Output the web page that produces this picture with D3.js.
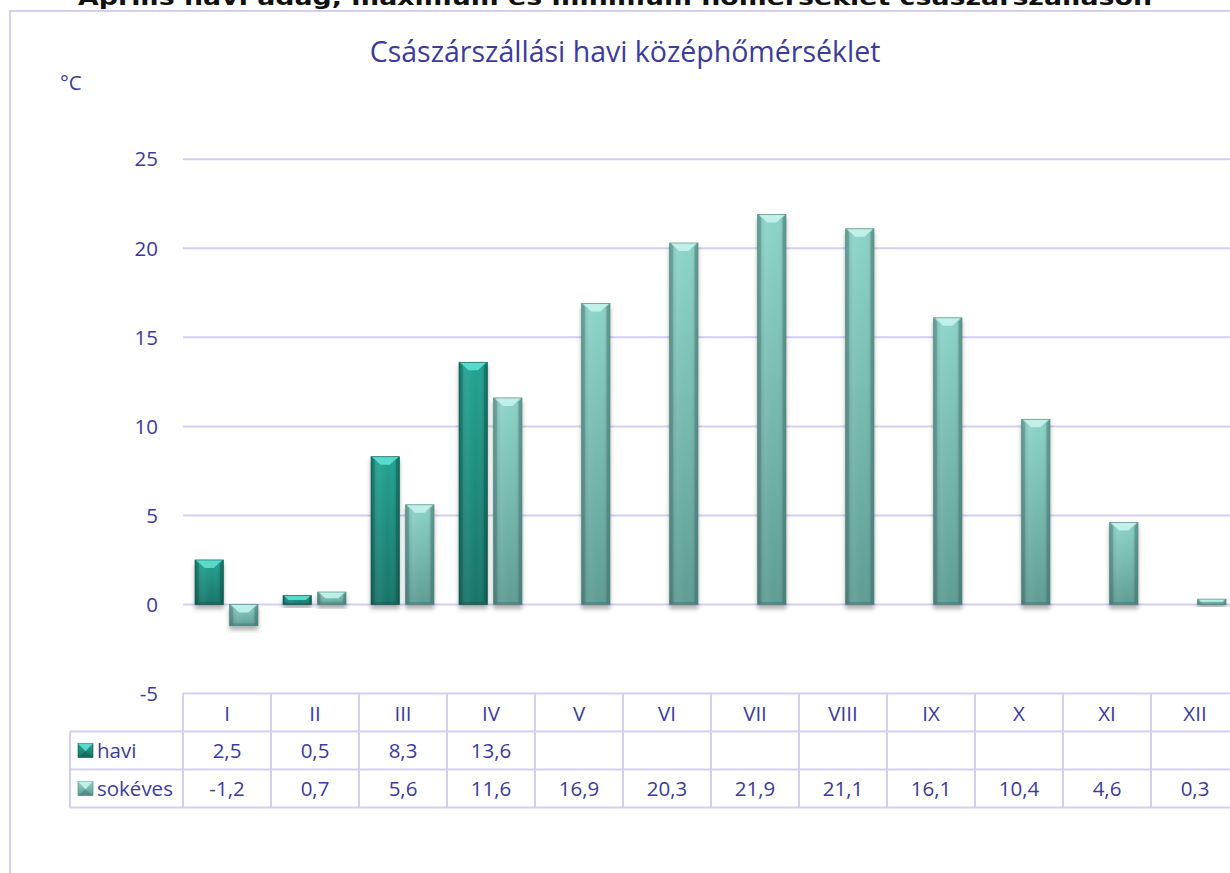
<!DOCTYPE html>
<html><head><meta charset="utf-8">
<script src="https://cdn.jsdelivr.net/npm/d3@7"></script>
<style>
html,body{margin:0;padding:0;background:#fff;}
svg{display:block;}
</style></head>
<body>
<script>
const months = ["I","II","III","IV","V","VI","VII","VIII","IX","X","XI","XII"];
const seriesNames = ["havi","sokéves"];
const havi = [2.5,0.5,8.3,13.6,null,null,null,null,null,null,null,null];
const sokeves = [-1.2,0.7,5.6,11.6,16.9,20.3,21.9,21.1,16.1,10.4,4.6,0.3];
const yTicks = [-5,0,5,10,15,20,25];
const chartTitle = "Császárszállási havi középhőmérséklet";
const topText = "Április havi adag, maximum és minimum hőmérséklet császárszálláson";
const unitLabel = "°C";

const W = 1230, H = 873;
const textColor = "#3b3ba0";
const lineColor = "#d3cff2";
const svg = d3.select("body").append("svg").attr("width", W).attr("height", H);
const defs = svg.append("defs");

const pal = {
  "havi": {top:"#22a392", bot:"#187468", edge:"#0f5a52", light:"#62e4d6", dark:"#0e4f48"},
  "sokéves": {top:"#8cd4c8", bot:"#5e9c94", edge:"#4a857e", light:"#c8f6ee", dark:"#3e6f69"}
};
seriesNames.forEach((s,i)=>{
  const p = pal[s];
  const g = defs.append("linearGradient").attr("id","g"+i).attr("x1",0).attr("y1",0).attr("x2",0).attr("y2",1);
  g.append("stop").attr("offset","0%").attr("stop-color",p.top);
  g.append("stop").attr("offset","100%").attr("stop-color",p.bot);
  const h = defs.append("linearGradient").attr("id","h"+i).attr("x1",0).attr("y1",0).attr("x2",1).attr("y2",0);
  h.append("stop").attr("offset","0%").attr("stop-color","#000").attr("stop-opacity",0.18);
  h.append("stop").attr("offset","30%").attr("stop-color","#fff").attr("stop-opacity",0.06);
  h.append("stop").attr("offset","60%").attr("stop-color","#fff").attr("stop-opacity",0.0);
  h.append("stop").attr("offset","100%").attr("stop-color","#000").attr("stop-opacity",0.12);
});
const f = defs.append("filter").attr("id","sh").attr("x","-30%").attr("y","-30%").attr("width","160%").attr("height","160%");
f.append("feDropShadow").attr("dx",0).attr("dy",4).attr("stdDeviation",2.2).attr("flood-color","#000").attr("flood-opacity",0.3);

// top text (cut off at the top edge, as in the reference)
svg.append("text").attr("x", 78).attr("y", 5)
  .attr("font-family","DejaVu Sans").attr("font-weight","bold").attr("font-size",21)
  .attr("textLength",1074).attr("lengthAdjust","spacingAndGlyphs")
  .attr("fill","#111").text(topText);

// chart border
svg.append("path").attr("d",`M10,${H+5} L10,11 L${W+5},11`).attr("fill","none").attr("stroke",lineColor).attr("stroke-width",2);

const x = d3.scaleBand().domain(months).range([183, 183+88*12]);
const x1 = d3.scaleBand().domain(seriesNames).range([12, 75]).paddingInner(0.18);
const y = d3.scaleLinear().domain([-5,25]).range([693.5,159.3]);

svg.append("g").selectAll("line").data(yTicks.filter(t=>t>-5)).join("line")
  .attr("x1",183).attr("x2",W).attr("y1",d=>y(d)).attr("y2",d=>y(d))
  .attr("stroke",lineColor).attr("stroke-width",2);

svg.append("g").selectAll("text").data(yTicks).join("text")
  .attr("x",158).attr("y",d=>y(d)).attr("dy","0.35em").attr("text-anchor","end")
  .attr("font-family","Open Sans").attr("font-size",20.5).attr("fill",textColor).text(d=>d);

svg.append("text").attr("x",625).attr("y",62).attr("text-anchor","middle")
  .attr("font-family","Open Sans").attr("font-size",28.5).attr("fill",textColor).text(chartTitle);
svg.append("text").attr("x",60).attr("y",90)
  .attr("font-family","Open Sans").attr("font-size",20.5).attr("fill",textColor).text(unitLabel);

function bevelBar(g, x0, w, v0, v1, si){
  const p = pal[seriesNames[si]];
  const yt = Math.min(y(v0), y(v1)), yb = Math.max(y(v0), y(v1));
  const h = yb - yt;
  const b = Math.min(8, h/2, w/2);
  const x1_ = x0 + w;
  const gg = g.append("g").attr("filter","url(#sh)");
  gg.append("rect").attr("x",x0).attr("y",yt).attr("width",w).attr("height",h).attr("fill",`url(#g${si})`);
  gg.append("rect").attr("x",x0).attr("y",yt).attr("width",w).attr("height",h).attr("fill",`url(#h${si})`);
  gg.append("path").attr("d",`M${x0+1},${yt} L${x1_-1},${yt} L${x1_-b*1.2},${yt+b} L${x0+b*1.2},${yt+b} Z`).attr("fill",p.light).attr("opacity",0.85);
  gg.append("path").attr("d",`M${x0},${yt} L${x0+b*0.45},${yt+b*0.45} L${x0+b*0.45},${yb-b*0.3} L${x0},${yb} Z`).attr("fill",p.dark).attr("opacity",0.35);
  gg.append("path").attr("d",`M${x1_},${yt} L${x1_-b*0.45},${yt+b*0.45} L${x1_-b*0.45},${yb-b*0.3} L${x1_},${yb} Z`).attr("fill",p.dark).attr("opacity",0.45);
  gg.append("path").attr("d",`M${x0},${yb} L${x0+b*0.3},${yb-b*0.3} L${x1_-b*0.3},${yb-b*0.3} L${x1_},${yb} Z`).attr("fill",p.dark).attr("opacity",0.4);
  gg.append("rect").attr("x",x0).attr("y",yt).attr("width",w).attr("height",h).attr("fill","none").attr("stroke",p.edge).attr("stroke-width",0.8).attr("opacity",0.8);
}
const barsG = svg.append("g");
const seriesData = [havi, sokeves];
seriesData.forEach((arr, si)=>{
  arr.forEach((v, mi)=>{
    if (v === null) return;
    bevelBar(barsG, x(months[mi]) + x1(seriesNames[si]), x1.bandwidth(), 0, v, si);
  });
});

const rowTop = 693.5, rowH = 38;
const tbl = svg.append("g");
const fmt = v => v === null ? "" : String(v).replace(".", ",");
tbl.append("line").attr("x1",183).attr("x2",W).attr("y1",rowTop).attr("y2",rowTop).attr("stroke",lineColor).attr("stroke-width",2);
[1,2,3].forEach(r=>{
  tbl.append("line").attr("x1",70).attr("x2",W).attr("y1",rowTop+r*rowH).attr("y2",rowTop+r*rowH).attr("stroke",lineColor).attr("stroke-width",2);
});
tbl.append("line").attr("x1",70).attr("x2",70).attr("y1",rowTop+rowH).attr("y2",rowTop+3*rowH).attr("stroke",lineColor).attr("stroke-width",2);
months.forEach(m=>{
  tbl.append("line").attr("x1",x(m)).attr("x2",x(m)).attr("y1",rowTop).attr("y2",rowTop+3*rowH).attr("stroke",lineColor).attr("stroke-width",2);
});
tbl.selectAll("text.m").data(months).join("text").attr("class","m")
  .attr("x",d=>x(d)+x.bandwidth()/2).attr("y",rowTop+rowH/2+1).attr("dy","0.35em").attr("text-anchor","middle")
  .attr("font-family","Open Sans").attr("font-size",20.5).attr("fill",textColor).text(d=>d);
seriesData.forEach((arr, si)=>{
  const cy = rowTop + (si+1)*rowH + rowH/2;
  tbl.selectAll("text.v"+si).data(arr).join("text").attr("class","v"+si)
    .attr("x",(d,i)=>x(months[i])+x.bandwidth()/2).attr("y",cy).attr("dy","0.35em").attr("text-anchor","middle")
    .attr("font-family","Open Sans").attr("font-size",20.5).attr("fill",textColor).text(d=>fmt(d));
  const p = pal[seriesNames[si]];
  const kx = 78, ky = cy - 7, ks = 15, kh = 14;
  const kg = tbl.append("g");
  kg.append("rect").attr("x",kx).attr("y",ky).attr("width",ks).attr("height",kh).attr("fill",`url(#g${si})`).attr("stroke",p.edge).attr("stroke-width",0.6);
  kg.append("path").attr("d",`M${kx},${ky} L${kx+ks},${ky} L${kx+ks/2},${ky+kh*0.55} Z`).attr("fill",p.light).attr("opacity",0.85);
  kg.append("path").attr("d",`M${kx},${ky+kh} L${kx+ks},${ky+kh} L${kx+ks/2},${ky+kh*0.55} Z`).attr("fill",p.dark).attr("opacity",0.4);
  tbl.append("text").attr("x",97).attr("y",cy).attr("dy","0.35em")
    .attr("font-family","Open Sans").attr("font-size",20.5).attr("fill",textColor).text(seriesNames[si]);
});
</script>
</body></html>
